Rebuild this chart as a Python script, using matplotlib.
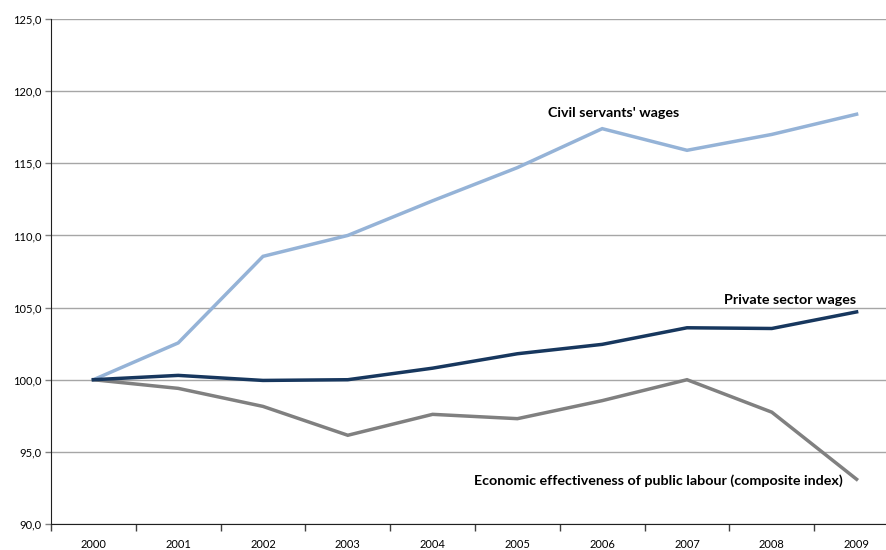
import numpy as np
import matplotlib.pyplot as plt

years = ['2000', '2001', '2002', '2003', '2004', '2005', '2006', '2007', '2008', '2009']
civil = [100.0, 102.55, 108.55, 110.0, 112.4, 114.7, 117.4, 115.9, 117.0, 118.4]
private = [100.0, 100.3, 99.95, 100.0, 100.8, 101.8, 102.45, 103.6, 103.55, 104.7]
econ = [100.0, 99.4, 98.15, 96.15, 97.6, 97.3, 98.55, 100.0, 97.75, 93.1]

plt.rcParams['font.family'] = ['Lato', 'DejaVu Sans']

fig = plt.figure(figsize=(8.86, 5.5), dpi=100)
# the plot area runs a bit past the right edge of the picture
ax = fig.add_axes([51/886, 26/550, 848/886, 505/550])

x = np.arange(len(years))
ax.plot(x, civil, color='#95b3d7', lw=2.5, solid_joinstyle='miter', zorder=3)
ax.plot(x, private, color='#17375e', lw=2.5, solid_joinstyle='miter', zorder=4)
ax.plot(x, econ, color='#808080', lw=2.5, solid_joinstyle='miter', zorder=3)

ax.set_xlim(-0.5, 9.5)
ax.set_ylim(90, 125)

yt = np.arange(90, 126, 5)
ax.set_yticks(yt)
ax.set_yticklabels([('%.1f' % v).replace('.', ',') for v in yt], fontsize=8)
ax.grid(axis='y', color='#a6a6a6', lw=1)
ax.set_axisbelow(True)

# category boundaries get the ticks, names sit in between
ax.set_xticks(np.arange(-0.5, 10, 1))
ax.set_xticklabels([])
ax.set_xticks(x, minor=True)
ax.set_xticklabels(years, minor=True, fontsize=8)
ax.tick_params(axis='x', which='major', direction='out', length=5, width=1, color='#404040')
ax.tick_params(axis='x', which='minor', length=0, pad=11)
ax.tick_params(axis='y', direction='out', length=4, width=1, color='#808080', pad=3)

for s in ['top', 'right']:
    ax.spines[s].set_visible(False)
ax.spines['left'].set_color('#202020')
ax.spines['bottom'].set_color('#202020')

ax.text(6.13, 118.5, "Civil servants' wages", fontsize=10.3, fontweight='bold', ha='center', va='center')
ax.text(9.0, 105.5, "Private sector wages", fontsize=10.3, fontweight='bold', ha='right', va='center')
ax.text(8.84, 93.0, "Economic effectiveness of public labour (composite index)", fontsize=10.3,
        fontweight='bold', ha='right', va='center')

plt.savefig('out.png', dpi=100)
